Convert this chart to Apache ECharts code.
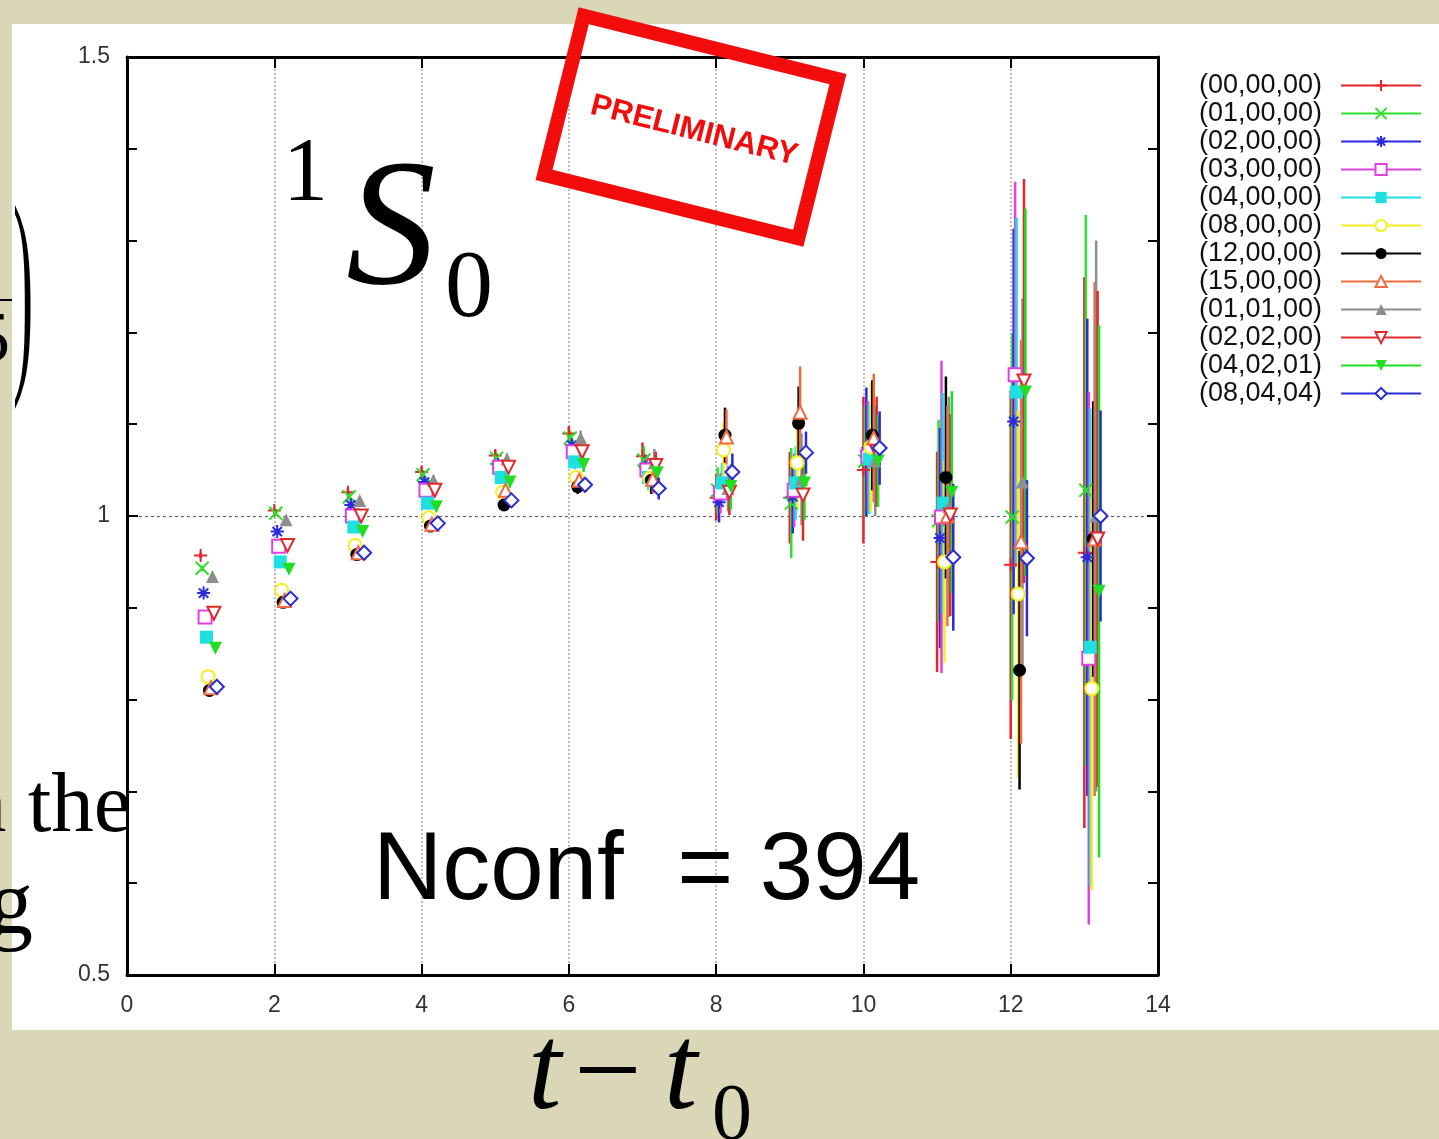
<!DOCTYPE html>
<html>
<head>
<meta charset="utf-8">
<script src="https://cdn.jsdelivr.net/npm/echarts@6/dist/echarts.min.js"></script>
<style>
  html, body { margin: 0; padding: 0; background: #d9d7b7; }
  #chart { width: 1439px; height: 1139px; }
</style>
</head>
<body>
<div id="chart"></div>
<script>
// Effective-mass ratio vs. t - t0 for twelve momentum channels (1S0)
const T = [1, 2, 3, 4, 5, 6, 7, 8, 9, 10, 11, 12, 13];
const X_TICKS = [0, 2, 4, 6, 8, 10, 12, 14];
const Y_TICKS = [0.5, 1, 1.5];
const LABELS = ['(00,00,00)', '(01,00,00)', '(02,00,00)', '(03,00,00)', '(04,00,00)', '(08,00,00)',
                '(12,00,00)', '(15,00,00)', '(01,01,00)', '(02,02,00)', '(04,02,01)', '(08,04,04)'];

// central values, one array per channel (t = 1..13)
const P000 = [0.957, 1.006, 1.026, 1.048, 1.066, 1.090, 1.065, 1.020, 1.020, 1.050, 0.950, 0.947, 0.960];
const P100 = [0.943, 1.003, 1.021, 1.045, 1.063, 1.085, 1.061, 1.028, 1.014, 1.060, 0.995, 0.999, 1.028];
const P200 = [0.916, 0.983, 1.012, 1.037, 1.056, 1.077, 1.053, 1.015, 1.021, 1.070, 0.976, 1.103, 0.955];
const P300 = [0.890, 0.967, 1.000, 1.028, 1.053, 1.070, 1.050, 1.025, 1.028, 1.065, 0.999, 1.154, 0.845];
const P400 = [0.868, 0.950, 0.988, 1.014, 1.042, 1.059, 1.042, 1.036, 1.036, 1.062, 1.014, 1.135, 0.857];
const P800 = [0.825, 0.919, 0.968, 0.998, 1.026, 1.042, 1.041, 1.072, 1.058, 1.075, 0.950, 0.915, 0.812];
const P1200 = [0.810, 0.906, 0.958, 0.989, 1.012, 1.032, 1.039, 1.088, 1.101, 1.088, 1.042, 0.832, 0.975];
const P1500 = [0.813, 0.908, 0.960, 0.991, 1.028, 1.039, 1.040, 1.086, 1.113, 1.085, 1.000, 0.972, 0.975];
const P110 = [0.934, 0.996, 1.017, 1.039, 1.062, 1.085, 1.058, 1.030, 1.040, 1.060, 1.010, 1.037, 1.000];
const P220 = [0.894, 0.968, 1.000, 1.028, 1.053, 1.070, 1.055, 1.026, 1.023, 1.070, 1.001, 1.147, 0.975];
const P421 = [0.856, 0.942, 0.983, 1.010, 1.037, 1.056, 1.047, 1.032, 1.036, 1.060, 1.026, 1.135, 0.918];
const P844 = [0.814, 0.910, 0.960, 0.992, 1.017, 1.034, 1.030, 1.048, 1.069, 1.074, 0.955, 0.954, 1.000];

// statistical errors, same layout
const E000 = [0.003, 0.003, 0.004, 0.005, 0.006, 0.008, 0.015, 0.025, 0.050, 0.080, 0.120, 0.190, 0.300];
const E100 = [0.003, 0.003, 0.004, 0.005, 0.006, 0.008, 0.015, 0.025, 0.060, 0.060, 0.110, 0.200, 0.300];
const E200 = [0.002, 0.003, 0.004, 0.005, 0.006, 0.008, 0.014, 0.022, 0.040, 0.070, 0.120, 0.210, 0.260];
const E300 = [0.002, 0.003, 0.004, 0.005, 0.006, 0.008, 0.014, 0.022, 0.040, 0.060, 0.170, 0.210, 0.290];
const E400 = [0.002, 0.003, 0.004, 0.005, 0.006, 0.008, 0.014, 0.022, 0.040, 0.060, 0.120, 0.190, 0.260];
const E800 = [0.003, 0.003, 0.004, 0.005, 0.006, 0.008, 0.015, 0.030, 0.050, 0.070, 0.110, 0.200, 0.220];
const E1200 = [0.003, 0.003, 0.004, 0.005, 0.006, 0.008, 0.015, 0.030, 0.040, 0.060, 0.110, 0.130, 0.150];
const E1500 = [0.003, 0.003, 0.004, 0.005, 0.006, 0.008, 0.015, 0.030, 0.050, 0.070, 0.120, 0.220, 0.280];
const E110 = [0.003, 0.003, 0.004, 0.005, 0.006, 0.008, 0.015, 0.025, 0.050, 0.060, 0.120, 0.200, 0.300];
const E220 = [0.003, 0.003, 0.004, 0.005, 0.006, 0.008, 0.015, 0.025, 0.050, 0.060, 0.110, 0.220, 0.270];
const E421 = [0.003, 0.003, 0.004, 0.005, 0.006, 0.008, 0.015, 0.025, 0.040, 0.050, 0.110, 0.200, 0.290];
const E844 = [0.002, 0.003, 0.004, 0.005, 0.006, 0.008, 0.012, 0.020, 0.023, 0.040, 0.080, 0.085, 0.115];

const VALUES = [P000, P100, P200, P300, P400, P800, P1200, P1500, P110, P220, P421, P844];
const ERRORS = [E000, E100, E200, E300, E400, E800, E1200, E1500, E110, E220, E421, E844];

const COLORS = ['#e2262c', '#2ee02e', '#2a2ae0', '#e040e0', '#1ee0e0', '#f2f020',
                '#000000', '#f06a40', '#8e8e8e', '#e02a2a', '#22de22', '#2a2ad6'];

const PLUS = 'path://M5,0L5,10M0,5L10,5';
const CROSS = 'path://M0,0L10,10M0,10L10,0';
const STAR = 'path://M5,0L5,10M0,5L10,5M1.4,1.4L8.6,8.6M1.4,8.6L8.6,1.4';
const MARKERS = [
  { symbol: PLUS, rotate: 0 }, { symbol: CROSS, rotate: 0 }, { symbol: STAR, rotate: 0 },
  { symbol: 'emptyRect', rotate: 0 }, { symbol: 'rect', rotate: 0 }, { symbol: 'emptyCircle', rotate: 0 },
  { symbol: 'circle', rotate: 0 }, { symbol: 'emptyTriangle', rotate: 0 }, { symbol: 'triangle', rotate: 0 },
  { symbol: 'emptyTriangle', rotate: 180 }, { symbol: 'triangle', rotate: 180 }, { symbol: 'emptyDiamond', rotate: 0 }
];
const SHIFT = 0.02;   // horizontal stagger between channels

const series = [];
VALUES.forEach((vals, i) => {
  const c = COLORS[i];
  const pts = T.map((t, k) => [t + i * SHIFT, vals[k], ERRORS[i][k]]);
  series.push({
    type: 'custom',
    silent: true,
    data: pts,
    encode: { x: 0, y: 1 },
    renderItem: (params, api) => {
      const x = api.value(0), y = api.value(1), e = api.value(2);
      const a = api.coord([x, y + e]);
      const b = api.coord([x, y - e]);
      return {
        type: 'line',
        shape: { x1: a[0], y1: a[1], x2: b[0], y2: b[1] },
        style: { stroke: c, lineWidth: 2.5 }
      };
    }
  });
  const m = MARKERS[i];
  const isLine = m.symbol.indexOf('path://') === 0;
  const isEmpty = m.symbol.indexOf('empty') === 0;
  series.push({
    type: 'line',
    name: LABELS[i],
    color: c,
    data: pts.map(p => [p[0], p[1]]),
    symbol: m.symbol,
    symbolRotate: m.rotate,
    symbolSize: i === 11 ? 14 : 13,
    showSymbol: true,
    showAllSymbol: true,
    lineStyle: { opacity: 0, width: 2 },
    itemStyle: { color: c, borderColor: c, borderWidth: (isLine || isEmpty) ? 2 : 0 },
    emphasis: { disabled: true },
    silent: true
  });
});

const FONT = 'Liberation Sans';
const deg = Math.PI / 180;

const axisLine = { show: true, onZero: false, lineStyle: { color: '#000', width: 3 } };
const tick = { show: true, inside: true, length: 11, lineStyle: { color: '#000', width: 2 } };

const option = {
  animation: false,
  backgroundColor: '#d9d7b7',
  grid: { left: 127, top: 57, width: 1031, height: 918, outerBoundsMode: 'none' },
  xAxis: [
    {
      type: 'value', min: X_TICKS[0], max: X_TICKS[X_TICKS.length - 1], interval: 2, position: 'bottom',
      axisLine, axisTick: tick,
      axisLabel: { margin: 19, fontSize: 23, color: '#333', fontFamily: FONT },
      splitLine: { show: true, lineStyle: { color: '#a8a8a8', type: [2, 2], width: 1.5 } }
    },
    {
      type: 'value', min: X_TICKS[0], max: X_TICKS[X_TICKS.length - 1], interval: 2, position: 'top',
      axisLine, axisTick: tick, axisLabel: { show: false }, splitLine: { show: false }
    }
  ],
  yAxis: [
    {
      type: 'value', min: Y_TICKS[0], max: Y_TICKS[Y_TICKS.length - 1], interval: 0.5, position: 'left',
      axisLine, axisTick: tick,
      minorTick: { show: true, splitNumber: 5, length: 10, lineStyle: { color: '#000', width: 2 } },
      axisLabel: { margin: 17, fontSize: 23, color: '#333', fontFamily: FONT,
                   formatter: v => (Y_TICKS.indexOf(v) >= 0 ? String(v) : '') },
      splitLine: { show: true, lineStyle: { color: '#666', type: [3, 3], width: 1.2 } }
    },
    {
      type: 'value', min: Y_TICKS[0], max: Y_TICKS[Y_TICKS.length - 1], interval: 0.5, position: 'right',
      axisLine, axisTick: tick,
      minorTick: { show: true, splitNumber: 5, length: 10, lineStyle: { color: '#000', width: 2 } },
      axisLabel: { show: false }, splitLine: { show: false }
    }
  ],
  legend: {
    orient: 'vertical', left: 1194, top: 67, align: 'right',
    itemWidth: 80, itemHeight: 14, itemGap: 1,
    selectedMode: false,
    textStyle: { fontFamily: FONT, fontSize: 27, color: '#111', lineHeight: 27, padding: [0, 14, 0, 0] },
    lineStyle: { width: 2, opacity: 1 },
    data: LABELS
  },
  graphic: [
    // slide panel behind the plot
    { type: 'rect', z: -10, silent: true, shape: { x: 12, y: 24, width: 1427, height: 1006 }, style: { fill: '#ffffff' } },
    // state label
    { type: 'text', z: 50, silent: true, x: 283, y: 176,
      style: { text: '1', font: '90px "Liberation Serif"', fill: '#000', textAlign: 'left', textVerticalAlign: 'middle' } },
    { type: 'text', z: 50, silent: true, x: 346, y: 236,
      style: { text: 'S', font: 'italic 180px "Liberation Serif"', fill: '#000', textAlign: 'left', textVerticalAlign: 'middle' } },
    { type: 'text', z: 50, silent: true, x: 445, y: 291,
      style: { text: '0', font: '96px "Liberation Serif"', fill: '#000', textAlign: 'left', textVerticalAlign: 'middle' } },
    // ensemble size
    { type: 'text', z: 50, silent: true, x: 373, y: 873,
      style: { text: 'Nconf  = 394', font: '96px "Liberation Sans"', fill: '#000', textAlign: 'left', textVerticalAlign: 'middle' } },
    // horizontal axis title
    { type: 'text', z: 50, silent: true, x: 528, y: 1076,
      style: { text: 't', font: 'italic 120px "Liberation Serif"', fill: '#000', textAlign: 'left', textVerticalAlign: 'middle' } },
    { type: 'text', z: 50, silent: true, x: 574, y: 1078,
      style: { text: '\u2212', font: '120px "Liberation Serif"', fill: '#000', textAlign: 'left', textVerticalAlign: 'middle' } },
    { type: 'text', z: 50, silent: true, x: 664, y: 1076,
      style: { text: 't', font: 'italic 120px "Liberation Serif"', fill: '#000', textAlign: 'left', textVerticalAlign: 'middle' } },
    { type: 'text', z: 50, silent: true, x: 712, y: 1118,
      style: { text: '0', font: '80px "Liberation Serif"', fill: '#000', textAlign: 'left', textVerticalAlign: 'middle' } },
    // fragments of the surrounding slide text
    { type: 'text', z: 50, silent: true, x: 13, y: 302, scaleX: 0.27,
      style: { text: ')', font: '225px "Liberation Serif"', fill: '#000', textAlign: 'left', textVerticalAlign: 'middle' } },
    { type: 'text', z: 50, silent: true, x: -26, y: 342,
      style: { text: '5', font: '72px "Liberation Serif"', fill: '#000', textAlign: 'left', textVerticalAlign: 'middle' } },
    { type: 'rect', z: 50, silent: true, shape: { x: 0, y: 299, width: 12, height: 2 }, style: { fill: '#000' } },
    { type: 'text', z: 50, silent: true, x: -36, y: 809,
      style: { text: 'n the', font: '85px "Liberation Serif"', fill: '#000', textAlign: 'left', textVerticalAlign: 'middle' } },
    { type: 'text', z: 50, silent: true, x: -12, y: 909,
      style: { text: 'g', font: '90px "Liberation Serif"', fill: '#000', textAlign: 'left', textVerticalAlign: 'middle' } },
    // PRELIMINARY stamp
    { type: 'rect', z: 60, silent: true, x: 691, y: 127, rotation: -14 * deg,
      shape: { x: -131, y: -82, width: 262, height: 164 },
      style: { fill: 'transparent', stroke: '#f20c0c', lineWidth: 14 } },
    { type: 'text', z: 60, silent: true, x: 694, y: 131, rotation: -14 * deg,
      style: { text: 'PRELIMINARY', font: 'bold 31px "Liberation Sans"', fill: '#f20c0c', textAlign: 'center', textVerticalAlign: 'middle' } }
  ],
  series
};

const chart = echarts.init(document.getElementById('chart'), null, { renderer: 'canvas' });
chart.setOption(option);
</script>
</body>
</html>
